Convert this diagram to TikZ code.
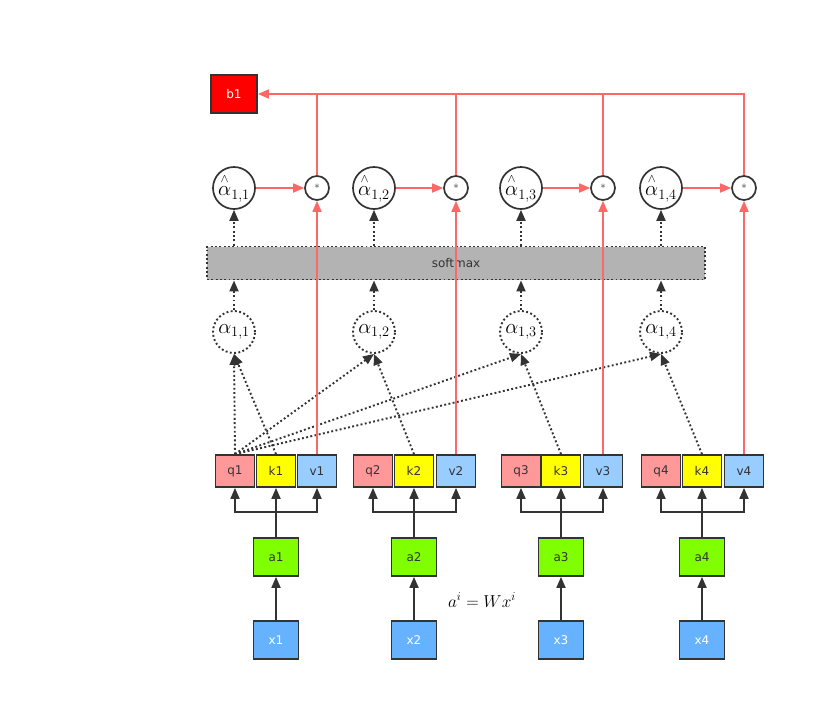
\documentclass[tikz,border=0pt]{standalone}
\usepackage{amsmath}
\usepackage{fontspec}
\setsansfont{DejaVu Sans}
\usepackage{xcolor}
\definecolor{ink}{HTML}{333333}
\definecolor{redline}{HTML}{FF6666}
\definecolor{qfill}{HTML}{FF9999}
\definecolor{kfill}{HTML}{FFFF00}
\definecolor{vfill}{HTML}{99CCFF}
\definecolor{afill}{HTML}{80FF00}
\definecolor{xfill}{HTML}{66B2FF}
\definecolor{bfill}{HTML}{FF0000}
\definecolor{smfill}{HTML}{B3B3B3}
\usetikzlibrary{arrows.meta,positioning}
\tikzset{
  every picture/.style={line width=1.7pt},
  cell/.style={draw=ink, line width=1.7pt, fill=#1, font=\sffamily\large, text=ink,
    minimum width=39pt, minimum height=32pt, inner sep=0pt},
  bigcell/.style={cell=#1, minimum width=45pt, minimum height=38pt},
  hatnode/.style={circle, draw=ink, line width=1.7pt, minimum size=42pt, inner sep=0pt,
    font=\huge},
  scorenode/.style={hatnode, dash pattern=on 1.9pt off 2.4pt, line width=1.9pt},
  starnode/.style={circle, draw=ink, line width=1.7pt, minimum size=24pt, inner sep=0pt,
    font=\sffamily\normalsize, text=ink!80},
  arrow/.style={-{Triangle[length=11pt,width=9pt]}, draw=ink},
  dotarrow/.style={arrow, dash pattern=on 1.9pt off 2.4pt, line width=1.9pt},
  redarrow/.style={-{Triangle[length=11pt,width=9pt]}, draw=redline},
  redwire/.style={draw=redline},
}
\newcommand{\hatalpha}[1]{\overset{\scriptscriptstyle\wedge}{\alpha}_{#1}}

\begin{document}
\begin{tikzpicture}[x=1pt, y=-1pt]
  \useasboundingbox (0,0) rectangle (824,721);
  % inputs and embeddings
  \node[bigcell=xfill, text=white] (x1) at (276,640) {x1};
  \node[bigcell=xfill, text=white] (x2) at (414,640) {x2};
  \node[bigcell=xfill, text=white] (x3) at (561,640) {x3};
  \node[bigcell=xfill, text=white] (x4) at (702,640) {x4};
  \node[bigcell=afill] (a1) at (276,557) {a1};
  \node[bigcell=afill] (a2) at (414,557) {a2};
  \node[bigcell=afill] (a3) at (561,557) {a3};
  \node[bigcell=afill] (a4) at (702,557) {a4};
  \node[font=\LARGE] (eq) at (482,600) {$a^i = Wx^i$};
  % q, k, v
  \node[cell=qfill] (q1) at (235,471) {q1};
  \node[cell=kfill] (k1) at (276,471) {k1};
  \node[cell=vfill] (v1) at (317,471) {v1};
  \node[cell=qfill] (q2) at (373,471) {q2};
  \node[cell=kfill] (k2) at (414,471) {k2};
  \node[cell=vfill] (v2) at (456,471) {v2};
  \node[cell=qfill] (q3) at (521,471) {q3};
  \node[cell=kfill] (k3) at (561,471) {k3};
  \node[cell=vfill] (v3) at (603,471) {v3};
  \node[cell=qfill] (q4) at (661,471) {q4};
  \node[cell=kfill] (k4) at (702,471) {k4};
  \node[cell=vfill] (v4) at (744,471) {v4};
  \coordinate (j1) at (276,512);
  \coordinate (j2) at (414,512);
  \coordinate (j3) at (561,512);
  \coordinate (j4) at (702,512);
  % scores, softmax, normalised scores
  \node[scorenode] (p1) at (234,332) {$\alpha_{1,1}$};
  \node[scorenode] (p2) at (374,332) {$\alpha_{1,2}$};
  \node[scorenode] (p3) at (521,332) {$\alpha_{1,3}$};
  \node[scorenode] (p4) at (661,332) {$\alpha_{1,4}$};
  \node[draw=ink, fill=smfill, dash pattern=on 1.9pt off 2.4pt, line width=1.9pt,
    minimum width=498pt, minimum height=33pt, font=\sffamily\large, text=ink] (sm) at (456,263) {softmax};
  \node[hatnode] (h1) at (234,188) {$\hatalpha{1,1}$};
  \node[hatnode] (h2) at (374,188) {$\hatalpha{1,2}$};
  \node[hatnode] (h3) at (521,188) {$\hatalpha{1,3}$};
  \node[hatnode] (h4) at (661,188) {$\hatalpha{1,4}$};
  \node[starnode] (s1) at (317,188) {*};
  \node[starnode] (s2) at (456,188) {*};
  \node[starnode] (s3) at (603,188) {*};
  \node[starnode] (s4) at (744,188) {*};
  \node[bigcell=bfill, minimum width=46pt, text=white] (b1) at (234,94) {b1};

  % x -> a -> q, k, v
  \draw[arrow] (x1) -- (a1);
  \draw[arrow] (x2) -- (a2);
  \draw[arrow] (x3) -- (a3);
  \draw[arrow] (x4) -- (a4);
  \draw[arrow] (a1) -- (k1);
  \draw[arrow] (j1) -| (q1);
  \draw[arrow] (j1) -| (v1);
  \draw[arrow] (a2) -- (k2);
  \draw[arrow] (j2) -| (q2);
  \draw[arrow] (j2) -| (v2);
  \draw[arrow] (a3) -- (k3);
  \draw[arrow] (j3) -| (q3);
  \draw[arrow] (j3) -| (v3);
  \draw[arrow] (a4) -- (k4);
  \draw[arrow] (j4) -| (q4);
  \draw[arrow] (j4) -| (v4);
  % q1 against every k
  \draw[dotarrow] (q1.north) -- (p1.south);
  \draw[dotarrow] (q1.north) -- (p2.south);
  \draw[dotarrow] (q1.north) -- (p3.south);
  \draw[dotarrow] (q1.north) -- (p4.south);
  \draw[dotarrow] (k1.north) -- (p1.south);
  \draw[dotarrow] (k2.north) -- (p2.south);
  \draw[dotarrow] (k3.north) -- (p3.south);
  \draw[dotarrow] (k4.north) -- (p4.south);
  % through softmax
  \draw[dotarrow] (p1.north) -- (p1.north |- sm.south);
  \draw[dotarrow] (p2.north) -- (p2.north |- sm.south);
  \draw[dotarrow] (p3.north) -- (p3.north |- sm.south);
  \draw[dotarrow] (p4.north) -- (p4.north |- sm.south);
  \draw[dotarrow] (h1.south |- sm.north) -- (h1.south);
  \draw[dotarrow] (h2.south |- sm.north) -- (h2.south);
  \draw[dotarrow] (h3.south |- sm.north) -- (h3.south);
  \draw[dotarrow] (h4.south |- sm.north) -- (h4.south);
  % weighted sum of v
  \draw[redarrow] (h1) -- (s1);
  \draw[redarrow] (h2) -- (s2);
  \draw[redarrow] (h3) -- (s3);
  \draw[redarrow] (h4) -- (s4);
  \draw[redarrow] (v1.north) -- (s1.south);
  \draw[redarrow] (v2.north) -- (s2.south);
  \draw[redarrow] (v3.north) -- (s3.south);
  \draw[redarrow] (v4.north) -- (s4.south);
  \draw[redarrow] (s4.north) |- (b1.east);
  \draw[redwire] (s1.north) -- (s1.north |- b1.east);
  \draw[redwire] (s2.north) -- (s2.north |- b1.east);
  \draw[redwire] (s3.north) -- (s3.north |- b1.east);
\end{tikzpicture}
\end{document}
